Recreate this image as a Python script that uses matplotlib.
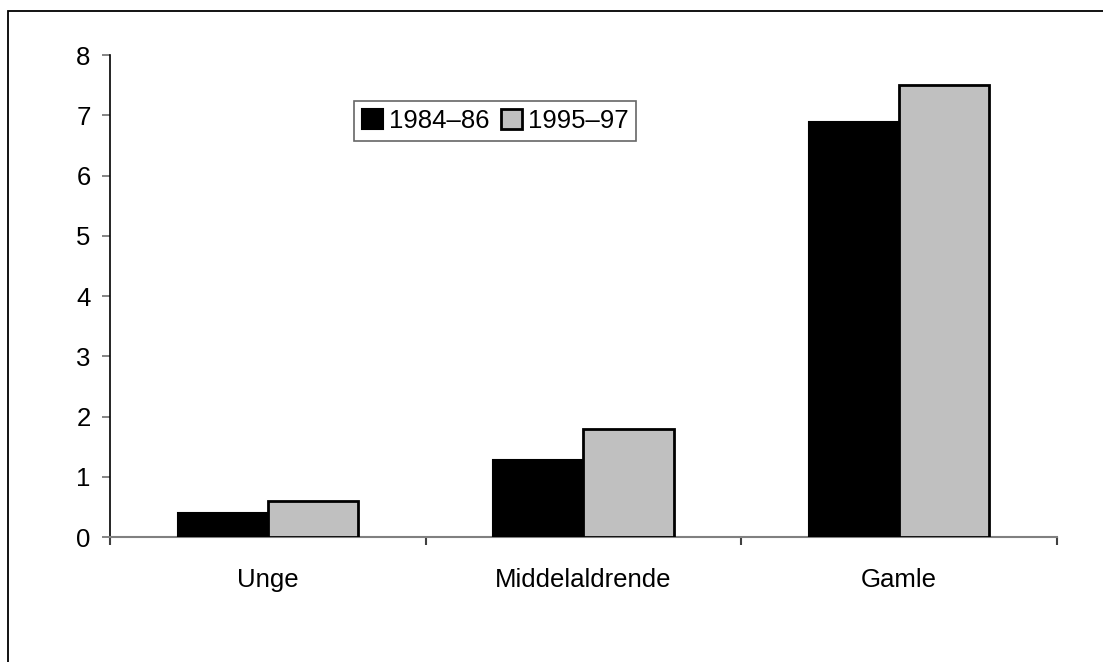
import matplotlib.pyplot as plt
import numpy as np
from matplotlib.patches import Rectangle

plt.rcParams['font.family'] = ['Liberation Sans', 'DejaVu Sans']

groups = ['Unge', 'Middelaldrende', 'Gamle']
series = ['1984\u201386', '1995\u201397']
v_8486 = [0.4, 1.27, 6.88]
v_9597 = [0.6, 1.8, 7.5]

fig = plt.figure(figsize=(11.03, 6.62), dpi=100)
ax = fig.add_axes([0.0997, 0.1888, 0.8583, 0.7281])

# outer border (left and top visible)
fig.patches.append(Rectangle((8 / 1103, -0.1), 1.2, 1 - 11 / 662 + 0.1,
                             transform=fig.transFigure, fill=False,
                             edgecolor='black', linewidth=1.3))

x = np.arange(len(groups))
w = 0.286
ax.bar(x - w / 2, v_8486, w, color='black', edgecolor='black', linewidth=1.5,
       label=series[0], zorder=3)
ax.bar(x + w / 2, v_9597, w, color='#c0c0c0', edgecolor='black', linewidth=2,
       label=series[1], zorder=3)

ax.set_xlim(-0.5, 2.5)
ax.set_ylim(0, 8)
ax.set_yticks(range(0, 9))
ax.set_xticks(x)
ax.set_xticklabels(groups)
ax.set_xticks(np.arange(-0.5, 3, 1), minor=True)

for s in ['top', 'right']:
    ax.spines[s].set_visible(False)
ax.spines['left'].set_color('black')
ax.spines['left'].set_linewidth(1.2)
ax.spines['bottom'].set_color('#808080')
ax.spines['bottom'].set_linewidth(1.5)

fs = 18.5
ax.tick_params(axis='y', labelsize=fs, length=5.5, width=1.2, color='#707070', pad=8.5)
ax.tick_params(axis='x', which='major', labelsize=fs, length=0, pad=22)
ax.tick_params(axis='x', which='minor', length=5.5, width=1.5, color='#404040')

leg = ax.legend(loc='center', bbox_to_anchor=(0.407, 0.863), ncol=2, fontsize=fs,
                frameon=True, fancybox=False, edgecolor='#404040',
                handlelength=0.8, handleheight=0.8, handletextpad=0.25,
                columnspacing=0.45, borderpad=0.3, borderaxespad=0)
leg.get_frame().set_linewidth(1.2)

fig.savefig('out.png', dpi=100)
